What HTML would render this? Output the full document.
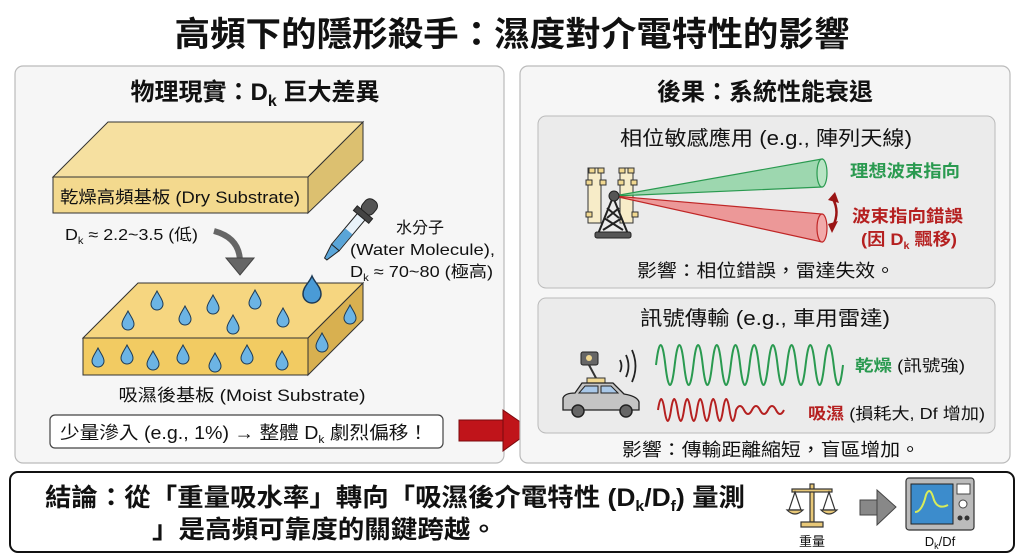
<!DOCTYPE html>
<html><head><meta charset="utf-8"><style>
html,body{margin:0;padding:0;background:#fff;}
svg{display:block;font-family:"Liberation Sans","Noto Sans CJK TC",sans-serif;}
</style></head><body>
<svg width="1024" height="559" viewBox="0 0 1024 559" xmlns="http://www.w3.org/2000/svg">
<defs>
<path id="drop" d="M0,-9 C3,-3 6,0 6,4 A6,6 0 0 1 -6,4 C-6,0 -3,-3 0,-9Z" fill="#6cb4e4" stroke="#1d3a55" stroke-width="1"/>
</defs>
<rect width="1024" height="559" fill="#fff"/>
<text x="512" y="46" font-size="34" font-weight="bold" text-anchor="middle" fill="#111" textLength="675" lengthAdjust="spacingAndGlyphs">高頻下的隱形殺手：濕度對介電特性的影響</text>

<!-- left panel -->
<rect x="15" y="66" width="489" height="397" rx="8" fill="#f6f6f6" stroke="#bbb" stroke-width="1.2"/>
<text x="255" y="100" font-size="24" font-weight="bold" text-anchor="middle" fill="#111">物理現實：D<tspan font-size="16" dy="6">k</tspan><tspan dy="-6"> 巨大差異</tspan></text>

<polygon points="53,177 108,122 363,122 308,177" fill="#f6e0a0" stroke="#333" stroke-width="1"/>
<polygon points="53,177 308,177 308,213 53,213" fill="#f3d98e" stroke="#333" stroke-width="1"/>
<polygon points="308,177 363,122 363,160 308,213" fill="#dcc070" stroke="#333" stroke-width="1"/>
<text x="60" y="203" font-size="17" fill="#111" textLength="240" lengthAdjust="spacingAndGlyphs">乾燥高頻基板 (Dry Substrate)</text>
<text x="65" y="240" font-size="16" fill="#111" textLength="133" lengthAdjust="spacingAndGlyphs">D<tspan font-size="10" dy="4">k</tspan><tspan dy="-4"> ≈ 2.2~3.5 (低)</tspan></text>
<path d="M214,231 Q240,238 240,262" fill="none" stroke="#666" stroke-width="6"/>
<polygon points="226,258 254,258 240,275" fill="#666" stroke="#444" stroke-width="1"/>

<polygon points="83,338 138,283 363,283 308,338" fill="#f6d680" stroke="#333" stroke-width="1"/>
<polygon points="83,338 308,338 308,375 83,375" fill="#f2cb62" stroke="#333" stroke-width="1"/>
<polygon points="308,338 363,283 363,320 308,375" fill="#d8b050" stroke="#333" stroke-width="1"/>
<use href="#drop" x="157" y="300"/><use href="#drop" x="213" y="304"/><use href="#drop" x="255" y="299"/>
<use href="#drop" x="128" y="320"/><use href="#drop" x="185" y="315"/><use href="#drop" x="233" y="324"/><use href="#drop" x="283" y="317"/>
<use href="#drop" x="98" y="357"/><use href="#drop" x="127" y="354"/><use href="#drop" x="153" y="360"/><use href="#drop" x="183" y="354"/>
<use href="#drop" x="215" y="362"/><use href="#drop" x="247" y="354"/><use href="#drop" x="282" y="360"/>
<use href="#drop" x="350" y="314"/><use href="#drop" x="322" y="342"/>

<g transform="translate(345,236) rotate(40)">
<rect x="-7" y="-46" width="14" height="16" rx="6" fill="#555" stroke="#222"/>
<rect x="-10" y="-31" width="20" height="6" fill="#444" stroke="#222"/>
<rect x="-5" y="-25" width="10" height="40" fill="#e8f2fa" stroke="#222"/>
<rect x="-4.5" y="-6" width="9" height="21" fill="#5aa5d8"/>
<polygon points="-5,15 5,15 1.5,30 -1.5,30" fill="#5aa5d8" stroke="#222"/>
</g>
<path d="M312,276 C315,283 321,287 321,294 A9,9 0 0 1 303,294 C303,287 309,283 312,276Z" fill="#4a9bd6" stroke="#1d3a55" stroke-width="1.5"/>
<text x="420" y="233" font-size="16" text-anchor="middle" fill="#111">水分子</text>
<text x="350" y="255" font-size="16" fill="#111" textLength="145" lengthAdjust="spacingAndGlyphs">(Water Molecule),</text>
<text x="350" y="277" font-size="16" fill="#111" textLength="143" lengthAdjust="spacingAndGlyphs">D<tspan font-size="10" dy="4">k</tspan><tspan dy="-4"> ≈ 70~80 (極高)</tspan></text>

<text x="242" y="401" font-size="17" text-anchor="middle" fill="#111" textLength="247" lengthAdjust="spacingAndGlyphs">吸濕後基板 (Moist Substrate)</text>
<rect x="50" y="415" width="393" height="33" rx="5" fill="#fff" stroke="#444" stroke-width="1.2"/>
<text x="60" y="439" font-size="18" fill="#111" textLength="368" lengthAdjust="spacingAndGlyphs">少量滲入 (e.g., 1%) → 整體 D<tspan font-size="11" dy="4">k</tspan><tspan dy="-4"> 劇烈偏移！</tspan></text>

<rect x="459" y="420" width="45" height="21" fill="#c0141a" stroke="#7a0a0e"/>
<polygon points="503,410 532,430 503,451" fill="#c0141a" stroke="#7a0a0e"/>

<!-- right panel -->
<rect x="520" y="66" width="490" height="397" rx="8" fill="#f6f6f6" stroke="#bbb" stroke-width="1.2"/>
<text x="765" y="100" font-size="24" font-weight="bold" text-anchor="middle" fill="#111">後果：系統性能衰退</text>
<rect x="538" y="116" width="457" height="172" rx="8" fill="#ebebeb" stroke="#bbb"/>
<text x="620" y="145" font-size="20" fill="#111" textLength="292" lengthAdjust="spacingAndGlyphs">相位敏感應用 (e.g., 陣列天線)</text>
<g stroke="#333" stroke-width="1" fill="#f5e6b8">
<rect x="588" y="168" width="13" height="55" fill="#f7ecc8"/>
<rect x="620" y="168" width="13" height="55" fill="#f7ecc8"/>
<rect x="589" y="168" width="6" height="5" fill="#f1d890"/><rect x="598" y="168" width="6" height="5" fill="#f1d890"/>
<rect x="619" y="168" width="6" height="5" fill="#f1d890"/><rect x="628" y="168" width="6" height="5" fill="#f1d890"/>
<rect x="586" y="180" width="6" height="5" fill="#f1d890"/><rect x="600" y="180" width="6" height="5" fill="#f1d890"/>
<rect x="618" y="180" width="6" height="5" fill="#f1d890"/><rect x="631" y="180" width="6" height="5" fill="#f1d890"/>
<rect x="586" y="212" width="6" height="5" fill="#f1d890"/><rect x="632" y="212" width="6" height="5" fill="#f1d890"/>
</g>
<g stroke="#222" stroke-width="2" fill="none">
<path d="M613,197 L598,234 M613,197 L628,234 M604,218 L623,230 M622,218 L603,230 M607,208 L619,218 M619,208 L607,218"/>
</g>
<rect x="595" y="232" width="36" height="6" rx="2" fill="#555" stroke="#222"/>
<polygon points="614,196 822,159 822,187" fill="#8fd4a5" fill-opacity="0.85" stroke="#2a9a50" stroke-width="1.2"/>
<ellipse cx="822" cy="173" rx="5" ry="14" fill="#b8e4c4" stroke="#2a9a50" stroke-width="1.2"/>
<polygon points="614,196 822,214 822,242" fill="#ec8a8a" fill-opacity="0.85" stroke="#c02626" stroke-width="1.2"/>
<ellipse cx="822" cy="228" rx="5" ry="14" fill="#f2aaaa" stroke="#c02626" stroke-width="1.2"/>
<circle cx="614" cy="196" r="5" fill="#555" stroke="#222"/>
<path d="M833,199 Q840,212 833,226" fill="none" stroke="#9a1414" stroke-width="2.5"/>
<polygon points="828,200 835,192 839,203" fill="#9a1414"/>
<polygon points="828,224 838,221 832,233" fill="#9a1414"/>
<text x="850" y="177" font-size="17" font-weight="bold" fill="#2a9a50" textLength="110" lengthAdjust="spacingAndGlyphs">理想波束指向</text>
<text x="852" y="222" font-size="17" font-weight="bold" fill="#b52020" textLength="111" lengthAdjust="spacingAndGlyphs">波束指向錯誤</text>
<text x="861" y="245" font-size="17" font-weight="bold" fill="#b52020" textLength="96" lengthAdjust="spacingAndGlyphs">(因 D<tspan font-size="10" dy="4">k</tspan><tspan dy="-4"> 飄移)</tspan></text>
<text x="637" y="277" font-size="18" fill="#111" textLength="258" lengthAdjust="spacingAndGlyphs">影響：相位錯誤，雷達失效。</text>

<rect x="538" y="298" width="457" height="135" rx="8" fill="#ebebeb" stroke="#bbb"/>
<text x="640" y="325" font-size="20" fill="#111" textLength="250" lengthAdjust="spacingAndGlyphs">訊號傳輸 (e.g., 車用雷達)</text>
<rect x="581" y="352" width="17" height="13" rx="2" fill="#666" stroke="#222"/>
<circle cx="589" cy="358" r="3" fill="#f1d890"/>
<path d="M589,365 L596,378" stroke="#333" stroke-width="2"/>
<rect x="587" y="378" width="18" height="5" fill="#f1d890" stroke="#333"/>
<path d="M563,410 L563,398 Q565,393 575,393 L582,383 L613,383 L624,394 Q637,396 639,402 L639,410 Z" fill="#c4c4c4" stroke="#222" stroke-width="1.3"/>
<path d="M585,386 L598,386 L598,393 L579,393 Z M601,386 L611,386 L618,393 L601,393 Z" fill="#a9c8e8" stroke="#222"/>
<circle cx="578" cy="411" r="6" fill="#666" stroke="#222" stroke-width="1.5"/>
<circle cx="626" cy="411" r="6" fill="#666" stroke="#222" stroke-width="1.5"/>
<g fill="none" stroke="#222" stroke-width="1.8">
<path d="M620,360 Q623,366 620,372"/><path d="M626,355 Q631,366 626,377"/><path d="M632,350 Q639,366 632,382"/>
</g>
<path d="M656,365 q4.7,-40 9.35,0 t9.35,0 t9.35,0 t9.35,0 t9.35,0 t9.35,0 t9.35,0 t9.35,0 t9.35,0 t9.35,0 t9.35,0 t9.35,0 t9.35,0 t9.35,0 t9.35,0 t9.35,0 t9.35,0 t9.35,0 t9.35,0 t9.35,0" fill="none" stroke="#2a9a50" stroke-width="2"/>
<text x="855" y="371" font-size="16" fill="#111" textLength="110" lengthAdjust="spacingAndGlyphs"><tspan fill="#2a9a50" font-weight="bold">乾燥</tspan> (訊號強)</text>
<path d="M658,410 q3.2,-22 6.5,0 t6.5,0 t6.5,0 t6.5,0 t6.5,0 t6.5,0 t6.5,0 t6.5,0 t6.5,0 t6.5,0 t6.5,0 t6.5,0 q4,-8 8,0 t8,0 t8,0 t8,0 t8,0 t8,0" fill="none" stroke="#b52020" stroke-width="2"/>
<text x="808" y="419" font-size="16" fill="#111" textLength="177" lengthAdjust="spacingAndGlyphs"><tspan fill="#b52020" font-weight="bold">吸濕</tspan> (損耗大, Df 增加)</text>
<text x="622" y="456" font-size="18" fill="#111" textLength="298" lengthAdjust="spacingAndGlyphs">影響：傳輸距離縮短，盲區增加。</text>

<!-- bottom -->
<rect x="10" y="472" width="1004" height="80" rx="8" fill="#fff" stroke="#111" stroke-width="2"/>
<text x="45" y="506" font-size="25" font-weight="bold" fill="#111" textLength="700" lengthAdjust="spacingAndGlyphs">結論：從「重量吸水率」轉向「吸濕後介電特性 (D<tspan font-size="15" dy="5">k</tspan><tspan dy="-5">/D</tspan><tspan font-size="15" dy="5">f</tspan><tspan dy="-5">) 量測</tspan></text>
<text x="152" y="538" font-size="25" font-weight="bold" fill="#111" textLength="345" lengthAdjust="spacingAndGlyphs">」是高頻可靠度的關鍵跨越。</text>
<g stroke="#333" stroke-width="1.2" fill="#e8c878">
<rect x="810" y="484" width="4" height="38"/>
<rect x="792" y="489" width="40" height="3"/>
<path d="M789,510 L795,492 L801,510 Z" fill="none"/>
<path d="M823,510 L829,492 L835,510 Z" fill="none"/>
<path d="M787,510 Q795,518 803,510 Z"/>
<path d="M821,510 Q829,518 837,510 Z"/>
<rect x="801" y="522" width="22" height="5"/>
</g>
<text x="812" y="546" font-size="13" text-anchor="middle" fill="#111">重量</text>
<rect x="860" y="500" width="18" height="15" fill="#888" stroke="#444"/>
<polygon points="877,490 896,507 877,525" fill="#888" stroke="#444"/>
<rect x="906" y="478" width="68" height="52" rx="3" fill="#bbb" stroke="#333" stroke-width="1.2"/>
<rect x="911" y="484" width="42" height="40" fill="#3c8ccc" stroke="#222"/>
<path d="M915,512 Q922,512 926,495 Q930,485 934,500 Q938,510 948,505" fill="none" stroke="#d8ec5a" stroke-width="2"/>
<rect x="957" y="484" width="13" height="10" fill="#fff" stroke="#444"/>
<circle cx="963" cy="504" r="4" fill="#fff" stroke="#444"/>
<circle cx="960" cy="518" r="2.5" fill="#333"/><circle cx="967" cy="518" r="2.5" fill="#333"/>
<text x="940" y="546" font-size="13" text-anchor="middle" fill="#111">D<tspan font-size="9" dy="3">k</tspan><tspan dy="-3">/Df</tspan></text>
</svg>
</body></html>
